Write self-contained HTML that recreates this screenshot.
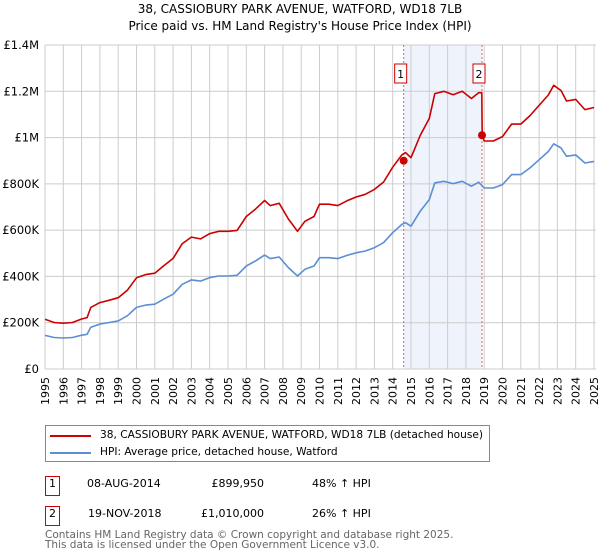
<!DOCTYPE html>
<html><head><meta charset="utf-8"><style>
body{margin:0;background:#fff;font-family:"DejaVu Sans","Liberation Sans",sans-serif;}
#wrap{position:relative;width:600px;height:560px;overflow:hidden;}
.t{position:absolute;font-size:11px;color:#000;white-space:nowrap;line-height:13px;}
</style></head><body><div id="wrap">
<div class="t" style="left:0;width:600px;text-align:center;top:1px;font-size:12px;line-height:17px">38, CASSIOBURY PARK AVENUE, WATFORD, WD18 7LB<br>Price paid vs. HM Land Registry's House Price Index (HPI)</div>
<svg id="chart" width="600" height="420" style="position:absolute;left:0;top:0"></svg>
<div style="position:absolute;left:45px;top:425px;width:443px;height:35px;border:1px solid #888;">
<div style="position:absolute;left:4px;top:3px;height:14px"><span style="position:absolute;left:0;top:6px;width:41px;height:2px;background:#cc0000"></span><span class="t" style="left:50px;top:0;font-size:10.6px">38, CASSIOBURY PARK AVENUE, WATFORD, WD18 7LB (detached house)</span></div>
<div style="position:absolute;left:4px;top:20px;height:14px"><span style="position:absolute;left:0;top:6px;width:41px;height:2px;background:#5b8fd4"></span><span class="t" style="left:50px;top:0;font-size:10.6px">HPI: Average price, detached house, Watford</span></div>
</div>
<div>
<div class="t" style="left:45px;top:476px;width:13px;height:18px;border:1px solid #cc0000;text-align:center;line-height:14px">1</div>
<div class="t" style="left:87px;top:477px">08-AUG-2014</div>
<div class="t" style="left:164px;width:100px;text-align:right;top:477px">£899,950</div>
<div class="t" style="left:312px;top:477px">48% ↑ HPI</div></div>
<div>
<div class="t" style="left:45px;top:506px;width:13px;height:18px;border:1px solid #cc0000;text-align:center;line-height:14px">2</div>
<div class="t" style="left:88px;top:507px">19-NOV-2018</div>
<div class="t" style="left:164px;width:100px;text-align:right;top:507px">£1,010,000</div>
<div class="t" style="left:312px;top:507px">26% ↑ HPI</div></div>
<div class="t" style="left:45px;top:530px;color:#666;font-size:10.5px;line-height:10px">Contains HM Land Registry data © Crown copyright and database right 2025.<br>This data is licensed under the Open Government Licence v3.0.</div>
</div>
<script>
const hpiYears=[1995,1995.5,1996,1996.5,1997,1997.3,1997.5,1998,1998.5,1999,1999.5,2000,2000.5,2001,2001.5,2002,2002.5,2003,2003.5,2004,2004.5,2005,2005.5,2006,2006.5,2007,2007.3,2007.8,2008.3,2008.8,2009.2,2009.7,2010,2010.5,2011,2011.5,2012,2012.5,2013,2013.5,2014,2014.5,2014.7,2015,2015.5,2016,2016.3,2016.8,2017.3,2017.8,2018.3,2018.7,2019,2019.5,2020,2020.5,2021,2021.5,2022,2022.5,2022.8,2023.2,2023.5,2024,2024.5,2025];
const hpiValues=[145,136,134,136,146,150,180,194,201,208,230,266,276,280,302,323,366,385,380,395,402,402,405,445,467,492,477,484,438,402,431,445,481,481,477,491,502,510,524,546,589,625,632,617,682,732,804,811,801,811,790,807,782,782,797,840,840,869,904,940,973,955,919,925,890,897];
const propYears=[1995,1995.5,1996,1996.5,1997,1997.3,1997.5,1998,1998.5,1999,1999.5,2000,2000.5,2001,2001.5,2002,2002.5,2003,2003.5,2004,2004.5,2005,2005.5,2006,2006.5,2007,2007.3,2007.8,2008.3,2008.8,2009.2,2009.7,2010,2010.5,2011,2011.5,2012,2012.5,2013,2013.5,2014,2014.5,2014.7,2015,2015.5,2016,2016.3,2016.8,2017.3,2017.8,2018.3,2018.7,2018.87,2018.89,2019,2019.5,2020,2020.5,2021,2021.5,2022,2022.5,2022.8,2023.2,2023.5,2024,2024.5,2025];
const propValues=[215,201,198,201,216,222,266,287,297,308,340,394,408,414,447,478,542,570,562,585,595,595,599,659,691,728,706,716,648,595,638,659,712,712,706,727,743,755,776,808,872,925,935,913,1009,1083,1190,1200,1185,1200,1169,1194,1194,1010,985,985,1004,1058,1058,1095,1139,1184,1226,1203,1158,1165,1121,1130];
const saleYears=[2014.6,2018.88];
const saleValues=[899.95,1010];
const saleLabels=["1","2"];
const yTicks=[0,200,400,600,800,1000,1200,1400];
const yTickLabels=["£0","£200K","£400K","£600K","£800K","£1M","£1.2M","£1.4M"];
const xTicks=[];for(let y=1995;y<=2025;y++)xTicks.push(y);

const NS="http://www.w3.org/2000/svg",svg=document.getElementById('chart');
const X0=45,X1=594,Y0=369,Y1=45;
const FF='DejaVu Sans, Liberation Sans, sans-serif';
const xs=v=>X0+(v-1995)/30*(X1-X0);
const ys=v=>Y0-v/1400*(Y0-Y1);
function mk(t,a,p){const e=document.createElementNS(NS,t);for(const k in a)e.setAttribute(k,a[k]);(p||svg).appendChild(e);return e;}
const shade=mk('rect',{x:xs(saleYears[0]),y:Y1,width:xs(saleYears[1])-xs(saleYears[0]),height:Y0-Y1,fill:'#eef3fc'});


xTicks.forEach(t=>{const l=mk('line',{x1:xs(t),x2:xs(t),y1:Y1,y2:Y0,stroke:'#ccc','stroke-width':1});


const tx=mk('text',{x:0,y:0,transform:`translate(${xs(t)+4},${Y0+8}) rotate(-90)`,'text-anchor':'end','font-size':'11','font-family':FF});tx.textContent=t;

});
yTicks.forEach((t,i)=>{const l=mk('line',{x1:X0,x2:X1+2,y1:ys(t),y2:ys(t),stroke:'#ccc','stroke-width':1});


const tx=mk('text',{x:X0-6,y:ys(t)+4,'text-anchor':'end','font-size':'11.5','font-family':FF});tx.textContent=yTickLabels[i];

});
saleYears.forEach((y,i)=>{const l=mk('line',{x1:xs(y),x2:xs(y),y1:Y1,y2:Y0,stroke:'#e06060','stroke-width':1,'stroke-dasharray':'2,2'});

});
function line(xa,va,col,name){const d=xa.map((x,i)=>(i?'L':'M')+xs(x).toFixed(1)+','+ys(va[i]).toFixed(1)).join('');
const p=mk('path',{d,fill:'none',stroke:col,'stroke-width':1.6,'stroke-linejoin':'round'});

}
line(hpiYears,hpiValues,'#5b8fd4','hpi-line');
line(propYears,propValues,'#cc0000','property-price-line');
saleYears.forEach((y,i)=>{const c=mk('circle',{cx:xs(y),cy:ys(saleValues[i]),r:4,fill:'#cc0000'});


const bx=xs(y)-9;const r=mk('rect',{x:bx,y:64,width:12,height:19,fill:'#fff',stroke:'#cc0000'});


const tx=mk('text',{x:bx+6,y:78,'text-anchor':'middle','font-size':'11','font-family':FF});tx.textContent=saleLabels[i];

});
</script></body></html>
